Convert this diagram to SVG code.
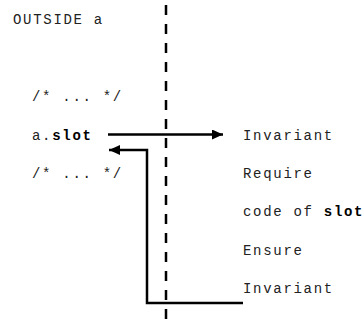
<svg xmlns="http://www.w3.org/2000/svg" width="363" height="320" viewBox="0 0 363 320">
<style>
text{font-family:"Liberation Mono","Courier New",monospace;font-size:14px;letter-spacing:1.7px;fill:#222}
.b{font-weight:bold;fill:#000}
.ln{fill:none;stroke:#000;stroke-width:2.5}
</style>
<defs>
<marker id="ah" markerWidth="12" markerHeight="10" refX="11" refY="5" orient="auto" markerUnits="userSpaceOnUse">
<path d="M0,0 L11,5 L0,10 Z" fill="#000"/>
</marker>
</defs>
<rect width="363" height="320" fill="#fff"/>
<g id="boundary">
<line x1="166" y1="5" x2="166" y2="320" stroke="#000" stroke-width="2.5" stroke-dasharray="10 9"/>
</g>
<g id="outside"><text x="13" y="24">OUTSIDE a</text></g>
<g id="left">
<text x="32" y="101">/* ... */</text>
<text x="32" y="140">a.<tspan class="b">slot</tspan></text>
<text x="32" y="178">/* ... */</text>
</g>
<g id="right">
<text x="243" y="140">Invariant</text>
<text x="243" y="178">Require</text>
<text x="243" y="216">code of <tspan class="b">slot</tspan></text>
<text x="243" y="255">Ensure</text>
<text x="243" y="293">Invariant</text>
</g>
<g id="connectors">
<line class="ln" x1="108" y1="134.5" x2="223" y2="134.5" marker-end="url(#ah)"/>
<polyline class="ln" points="243,303 147,303 147,150 109,150" marker-end="url(#ah)"/>
</g>
</svg>
